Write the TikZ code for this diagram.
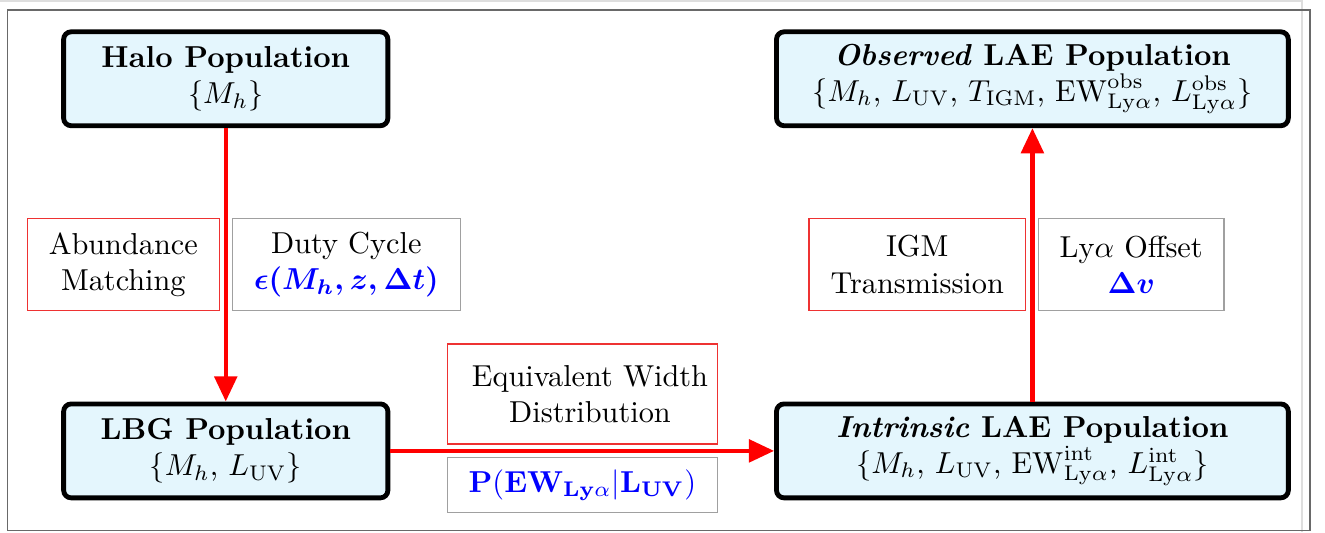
\documentclass[tikz,border=0pt]{standalone}
\usepackage{amsmath}
\usepackage{tikz}
\usepackage{amssymb}
\definecolor{cc}{RGB}{228, 246, 253}
\definecolor{fr}{RGB}{105, 105, 105}
\definecolor{lf}{RGB}{222, 222, 222}
\definecolor{gt}{RGB}{160, 160, 160}
\definecolor{rt}{RGB}{238, 50, 50}
\usetikzlibrary{arrows.meta}

\begin{document}
\begin{tikzpicture}[
popbox/.style={rectangle, rounded corners=2.5pt, fill=cc, line width=1.6pt, draw=black, align=center, minimum width=107pt, minimum height=31pt, inner sep=0pt},
redtag/.style={rectangle, line width=0.4pt, draw=rt, align=center, minimum height=30.5pt, inner sep=0pt},
graytag/.style={rectangle, line width=0.4pt, draw=gt, align=center, minimum height=30.5pt, inner sep=0pt},
flow/.style={line width=1.4pt, color=red, -{Triangle[length=8.3pt, width=7.4pt]}}]
\useasboundingbox (0pt, 0pt) rectangle (437.25pt, -175.6pt);
\draw [line width=0.6pt, color=lf] (0pt, -0.4pt) to(429.6pt, -0.4pt);
\draw [line width=0.6pt, color=lf] (429.6pt, 0pt) to(429.6pt, -175.6pt);
\draw [line width=0.35pt, color=fr] (2.4pt, -3.3pt) rectangle (432.3pt, -175.1pt);
\node (halo) [popbox] at (74.5pt, -26.0pt)  {\textbf{Halo Population}\\$\{M_h\}$};
\node (lbg) [popbox] at (74.5pt, -148.8pt)  {\textbf{LBG Population}\\$\{M_h$, $L_{\rm UV}\}$};
\node (intr) [popbox, minimum width=168.9pt] at (340.7pt, -148.8pt)  {\textbf{\textit{Intrinsic} LAE Population}\\$\{M_h$, $L_{\rm UV}$, ${\rm EW}^{\rm int}_{{\rm Ly}\alpha}$, $L^{\rm int}_{{\rm Ly}\alpha}\}$};
\node (obs) [popbox, minimum width=168.9pt] at (340.7pt, -26.0pt)  {\textbf{\textit{Observed} LAE Population}\\$\{M_h$, $L_{\rm UV}$, $T_{\rm IGM}$, ${\rm EW}^{\rm obs}_{{\rm Ly}\alpha}$, $L^{\rm obs}_{{\rm Ly}\alpha}\}$};
\node (abund) [redtag, minimum width=63.4pt] at (40.7pt, -87.3pt)  {Abundance\\Matching};
\node (duty) [graytag, minimum width=75.4pt] at (114.3pt, -87.3pt)  {Duty Cycle\\\textcolor{blue}{$\boldsymbol{\epsilon(M_h, z, \Delta t)}$}};
\node (igm) [redtag, minimum width=71.5pt] at (302.7pt, -87.3pt)  {IGM\\Transmission};
\node (offset) [graytag, minimum width=61.3pt] at (373.3pt, -87.3pt)  {Ly$\alpha$ Offset\\\textcolor{blue}{$\boldsymbol{\Delta v}$}};
\node (ewdist) [redtag, minimum width=89.1pt, minimum height=33pt] at (192.2pt, -130.0pt)  {\hspace{5pt}Equivalent Width\\\hspace{5pt}Distribution};
\node (pew) [graytag, minimum width=89.1pt, minimum height=18.2pt] at (192.2pt, -160.1pt)  {\textcolor{blue}{$\mathbf{P(EW_{Ly\alpha}|L_{UV})}$}};
\draw [flow] (halo) to(lbg);
\draw [flow] (lbg) to(intr);
\draw [flow] (intr) to(obs);
\end{tikzpicture}
\end{document}
